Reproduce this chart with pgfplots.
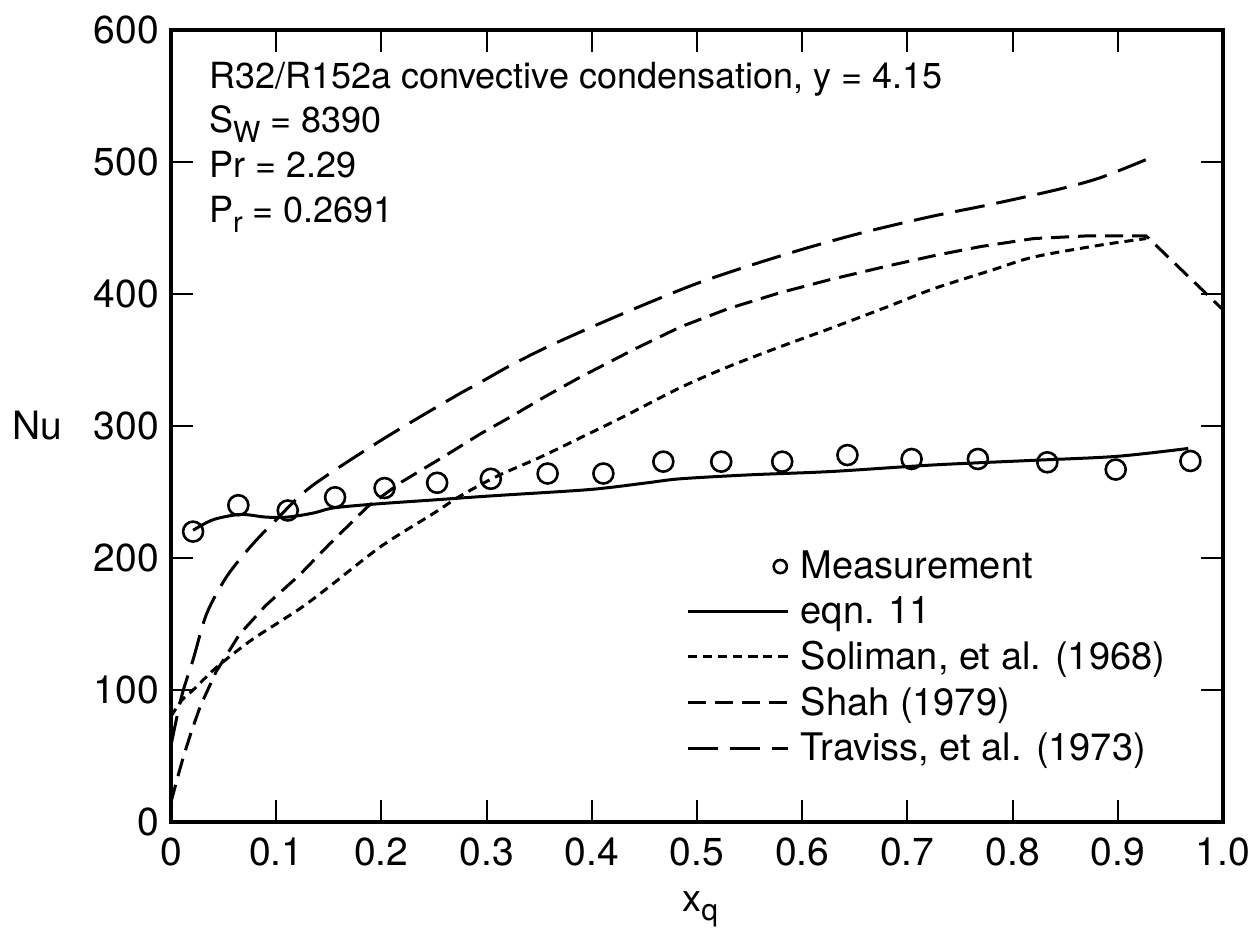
\documentclass[border=0pt]{standalone}
\usepackage{fontspec}
\setmainfont{TeX Gyre Heros}
\usepackage{pgfplots}
\pgfplotsset{compat=1.18}
\pgfplotsset{
  mylegline/.style={legend image code/.code={\draw[##1] plot coordinates {(0pt,0pt) (50pt,0pt)};}},
  mylegmark/.style={legend image code/.code={\path[draw=none] (0pt,0pt) -- (50pt,0pt); \draw[##1, mark size=3.3pt] plot coordinates {(46pt,0pt)};}},
}
\begin{document}
\begin{tikzpicture}
\useasboundingbox (-85.5pt,-54pt) rectangle (542.5pt,411pt);
\begin{axis}[
  at={(0,0)}, anchor=south west,
  scale only axis, width=526pt, height=396pt,
  xmin=0, xmax=1, ymin=0, ymax=600,
  xtick={0,0.1,0.2,0.3,0.4,0.5,0.6,0.7,0.8,0.9,1},
  xticklabels={0,0.1,0.2,0.3,0.4,0.5,0.6,0.7,0.8,0.9,1.0},
  ytick={0,100,200,300,400,500,600},
  yticklabels={0,100,200,300,400,500,600},
  tick align=inside,
  major tick length=11pt,
  every tick/.style={black, line width=1pt},
  axis line style={line width=1.6pt},
  tick label style={font=\fontsize{19.5}{22}\selectfont},
  xticklabel style={yshift=-4.5pt},
  yticklabel style={xshift=-2.5pt},
  /pgf/number format/assume math mode=true,
  xlabel={x\raisebox{-4.4pt}{\fontsize{15}{15}\selectfont q}},
  xlabel style={font=\fontsize{19}{22}\selectfont, at={(axis description cs:0.503,-0.1136)}, anchor=base},
  ylabel={Nu},
  ylabel style={font=\fontsize{19.5}{22}\selectfont, rotate=-90, at={(axis description cs:-0.127,0.5)}, anchor=center},
  legend style={draw=none, fill=none, at={(axis description cs:0.488,0.350)}, anchor=north west,
    font=\fontsize{19}{22}\selectfont, row sep=3.3pt, inner sep=1pt,
    /tikz/every odd column/.append style={column sep=3.5pt}},
  legend cell align=left,
]
\addplot[only marks, mark=o, mark size=5pt, mark options={line width=1.3pt}, mylegmark] coordinates {
(0.021,220)(0.064,240)(0.111,236)(0.156,246)(0.203,253)(0.253,257)(0.304,260)(0.358,264)(0.411,264)(0.468,273)(0.523,273)(0.581,273)(0.643,278)(0.704,275)(0.767,275)(0.833,272.5)(0.898,267)(0.969,273.5)
};
\addlegendentry{Measurement}
\addplot[black, line width=1.5pt, smooth, tension=0.5, mylegline] coordinates {
(0.021,221)(0.04,229)(0.066,233)(0.09,231)(0.111,231)(0.135,234)(0.155,238)(0.196,241)(0.25,244)(0.294,246.5)(0.323,248)(0.4,252)(0.453,257)(0.484,260)(0.55,263)(0.627,265.5)(0.725,270.5)(0.82,274)(0.899,277)(0.967,283)
};
\addlegendentry{eqn. 11}
\addplot[black, line width=1.5pt, dash pattern=on 4.5pt off 3pt, smooth, tension=0.5, mylegline] coordinates {
(0,80)(0.01,92)(0.021,100)(0.043,117)(0.075,137)(0.1,150)(0.125,163)(0.15,178)(0.2,209)(0.25,234)(0.275,247)(0.31,262)(0.35,276)(0.389,291)(0.43,307)(0.484,329)(0.53,345)(0.579,360)(0.627,374)(0.68,390)(0.725,404)(0.78,418)(0.82,428)(0.883,437)(0.927,442)
};
\addlegendentry{Soliman, et al. (1968)}
\addplot[black, line width=1.5pt, dash pattern=on 9pt off 4.5pt, mylegline] coordinates {
(0,15)(0.006,33)(0.012,50)(0.02,70)(0.028,88)(0.043,114)(0.065,142)(0.09,164)(0.122,187)(0.15,210)(0.187,239)(0.22,258)(0.2597,277)(0.294,294)(0.323,307)(0.355,322)(0.389,337)(0.44,358)(0.484,375)(0.53,389)(0.579,401)(0.627,411)(0.68,421)(0.725,429)(0.77,436)(0.82,442)(0.87,444)(0.927,444)(1.0,388)
};
\addlegendentry{Shah (1979)}
\addplot[black, line width=1.5pt, dash pattern=on 15pt off 6pt, smooth, tension=0.5, mylegline] coordinates {
(0,58)(0.01,95)(0.021,123)(0.034,158)(0.053,186)(0.076,209)(0.1,229)(0.133,254)(0.1994,289)(0.269,322)(0.294,333)(0.323,346)(0.358,360)(0.40,375)(0.453,393)(0.50,408)(0.548,421)(0.605,435)(0.66,447)(0.722,458.6)(0.78,468)(0.842,479)(0.883,488)(0.9275,502)
};
\addlegendentry{Traviss, et al. (1973)}
\node[anchor=base west, font=\fontsize{18}{21}\selectfont] at (axis cs:0.0295,556) {R32/R152a convective condensation, y = 4.15};
\node[anchor=base west, font=\fontsize{18}{21}\selectfont] at (axis cs:0.0295,522) {S\raisebox{-5pt}{\fontsize{14.5}{14.5}\selectfont W} = 8390};
\node[anchor=base west, font=\fontsize{18}{21}\selectfont] at (axis cs:0.0295,488) {Pr = 2.29};
\node[anchor=base west, font=\fontsize{18}{21}\selectfont] at (axis cs:0.0295,454) {P\raisebox{-5pt}{\fontsize{14.5}{14.5}\selectfont r} = 0.2691};
\end{axis}
\end{tikzpicture}
\end{document}
